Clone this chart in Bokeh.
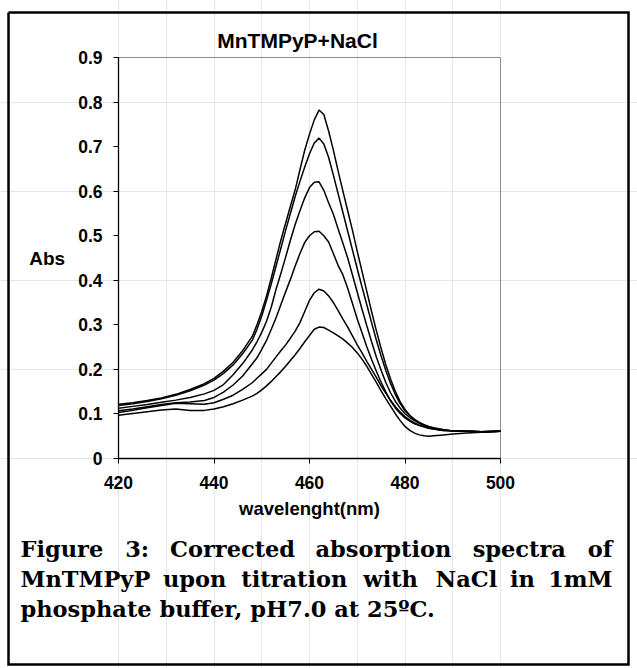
from bokeh.plotting import figure
from bokeh.models import Range1d, FixedTicker, CustomJSTickFormatter, LinearAxis, Label
from bokeh.embed import file_html
from bokeh.resources import INLINE

# ---------------- data ----------------
wavelength = [420, 423, 426, 429, 432, 435, 438, 440, 442, 444, 446, 448, 449, 450, 451, 452, 453, 454, 455,
              456, 457, 458, 459, 460, 461, 462, 463, 464, 465, 466, 467, 468, 469, 470, 471, 472, 473, 474,
              475, 476, 477, 478, 479, 480, 481, 482, 483, 484, 485, 486, 488, 490, 493, 496, 500]

abs_1 = [0.122, 0.125, 0.130, 0.136, 0.144, 0.155, 0.168, 0.180, 0.196, 0.216, 0.242, 0.274, 0.300, 0.330, 0.365,
         0.405, 0.448, 0.490, 0.528, 0.566, 0.603, 0.648, 0.692, 0.728, 0.760, 0.782, 0.772, 0.735, 0.692, 0.645,
         0.600, 0.556, 0.512, 0.465, 0.420, 0.375, 0.330, 0.287, 0.247, 0.210, 0.178, 0.150, 0.127, 0.110, 0.097,
         0.088, 0.081, 0.076, 0.072, 0.069, 0.065, 0.062, 0.061, 0.060, 0.061]
abs_2 = [0.119, 0.123, 0.128, 0.134, 0.142, 0.152, 0.165, 0.176, 0.191, 0.210, 0.235, 0.265, 0.290, 0.320, 0.355,
         0.392, 0.432, 0.472, 0.512, 0.550, 0.588, 0.622, 0.654, 0.684, 0.708, 0.719, 0.706, 0.676, 0.636, 0.594,
         0.552, 0.510, 0.468, 0.426, 0.385, 0.345, 0.305, 0.266, 0.230, 0.197, 0.168, 0.143, 0.123, 0.107, 0.096,
         0.087, 0.080, 0.075, 0.071, 0.068, 0.064, 0.062, 0.061, 0.060, 0.061]
abs_3 = [0.113, 0.117, 0.121, 0.126, 0.131, 0.137, 0.145, 0.153, 0.166, 0.188, 0.213, 0.243, 0.262, 0.283, 0.308,
         0.340, 0.380, 0.415, 0.452, 0.490, 0.525, 0.556, 0.585, 0.608, 0.620, 0.621, 0.602, 0.574, 0.548, 0.515,
         0.483, 0.450, 0.412, 0.373, 0.335, 0.298, 0.262, 0.228, 0.198, 0.170, 0.147, 0.128, 0.113, 0.101, 0.092,
         0.085, 0.079, 0.074, 0.070, 0.067, 0.064, 0.062, 0.061, 0.060, 0.061]
abs_4 = [0.107, 0.111, 0.116, 0.121, 0.125, 0.127, 0.130, 0.137, 0.149, 0.165, 0.185, 0.212, 0.226, 0.245, 0.265,
         0.290, 0.316, 0.345, 0.374, 0.402, 0.432, 0.460, 0.485, 0.500, 0.509, 0.510, 0.500, 0.486, 0.460, 0.433,
         0.412, 0.382, 0.348, 0.313, 0.282, 0.251, 0.222, 0.196, 0.171, 0.149, 0.129, 0.113, 0.101, 0.091, 0.084,
         0.078, 0.074, 0.071, 0.068, 0.066, 0.063, 0.062, 0.061, 0.060, 0.061]
abs_5 = [0.103, 0.108, 0.114, 0.119, 0.124, 0.123, 0.122, 0.125, 0.133, 0.142, 0.155, 0.170, 0.180, 0.190, 0.200,
         0.214, 0.228, 0.242, 0.255, 0.270, 0.286, 0.305, 0.330, 0.355, 0.372, 0.380, 0.376, 0.365, 0.350, 0.332,
         0.313, 0.295, 0.275, 0.255, 0.237, 0.218, 0.200, 0.182, 0.163, 0.146, 0.130, 0.116, 0.104, 0.094, 0.086,
         0.080, 0.075, 0.071, 0.068, 0.066, 0.063, 0.062, 0.061, 0.060, 0.061]
abs_6 = [0.097, 0.101, 0.105, 0.109, 0.111, 0.108, 0.108, 0.111, 0.116, 0.123, 0.131, 0.140, 0.146, 0.154, 0.163,
         0.173, 0.184, 0.195, 0.207, 0.220, 0.233, 0.247, 0.262, 0.276, 0.290, 0.295, 0.294, 0.288, 0.282, 0.275,
         0.268, 0.259, 0.249, 0.237, 0.223, 0.207, 0.189, 0.171, 0.152, 0.134, 0.117, 0.100, 0.085, 0.072, 0.063,
         0.057, 0.053, 0.051, 0.050, 0.051, 0.053, 0.055, 0.057, 0.059, 0.061]

x_ticks = [420, 440, 460, 480, 500]
y_ticks = [0, 0.1, 0.2, 0.3, 0.4, 0.5, 0.6, 0.7, 0.8, 0.9]
x_bounds = (420, 500)
y_bounds = (0, 0.9)

title_text = "MnTMPyP+NaCl"
x_label = "wavelenght(nm)"
y_label = "Abs"
caption_lines = [
    ["Figure", "3:", "Corrected", "absorption", "spectra", "of"],
    ["MnTMPyP", "upon", "titration", "with", "NaCl", "in", "1mM"],
    ["phosphate buffer, pH7.0 at 25\u00baC."],
]
caption_justify = [True, True, False]

# ---------------- layout (canvas pixels) ----------------
W, H = 637, 668
PX_L, PX_R, PX_T, PX_B = 118, 500, 57, 458     # plot area
BORDER = (8, 12, 628, 664)                     # left, top, right, bottom
TITLE_XY = (297, 40)
CAP_L, CAP_R = 20, 612
CAP_BASE = [548, 578, 608]
CAP_SIZE = 22.5

SANS = "Liberation Sans"
SERIF = "DejaVu Serif"

X0, X1 = x_bounds
Y0, Y1 = y_bounds
kx = (PX_R - PX_L) / (X1 - X0)
ky = (PX_B - PX_T) / (Y1 - Y0)


def dx(px):
    return X0 + (px - PX_L) / kx


def dy(py):
    return Y0 + (PX_B - py) / ky


p = figure(width=W, height=H, output_backend="svg", toolbar_location=None, title=None,
           x_range=Range1d(dx(0), dx(W)), y_range=Range1d(dy(H), dy(0)),
           x_axis_location=None, y_axis_location=None,
           min_border=0, min_border_left=0, min_border_right=0, min_border_top=0, min_border_bottom=0)
p.outline_line_color = None
p.background_fill_color = "white"
p.border_fill_color = "white"

# axes fixed at the plot-area edges
xaxis = LinearAxis(fixed_location=Y0, bounds=x_bounds, ticker=FixedTicker(ticks=x_ticks), axis_label=x_label)
yaxis = LinearAxis(fixed_location=X0, bounds=y_bounds, ticker=FixedTicker(ticks=y_ticks), axis_label=y_label,
                   formatter=CustomJSTickFormatter(code="return tick == 0 ? '0' : tick.toFixed(1);"))
for ax in (xaxis, yaxis):
    ax.axis_line_color = "black"
    ax.axis_line_width = 1.3
    ax.major_tick_line_color = "black"
    ax.major_tick_line_width = 1
    ax.major_tick_in = 0
    ax.major_tick_out = 5
    ax.minor_tick_line_color = None
    ax.major_label_text_font = SANS
    ax.major_label_text_font_style = "bold"
    ax.major_label_text_font_size = "17.5px"
    ax.major_label_text_color = "black"
    ax.axis_label_text_font = SANS
    ax.axis_label_text_font_style = "bold"
    ax.axis_label_text_color = "black"
xaxis.major_label_standoff = 12
xaxis.axis_label_text_font_size = "18.5px"
xaxis.axis_label_standoff = 6
yaxis.major_label_standoff = 11
yaxis.axis_label_orientation = "horizontal"
yaxis.axis_label_text_font_size = "19px"
yaxis.axis_label_standoff = 10
p.add_layout(xaxis, "below")
p.add_layout(yaxis, "left")

# grey plot-area border (top and right)
p.line([X0, X1, X1], [Y1, Y1, Y0], line_color="#8c8c8c", line_width=1)

# spectra
for ys in (abs_1, abs_2, abs_3, abs_4, abs_5, abs_6):
    p.line(wavelength, ys, line_color="black", line_width=1.5)

# title
p.add_layout(Label(x=dx(TITLE_XY[0]), y=dy(TITLE_XY[1]), text=title_text,
                   text_align="center", text_baseline="middle",
                   text_font=SANS, text_font_style="bold", text_font_size="21px", text_color="black"))

# caption: justified lines (approximate DejaVu Serif Bold advance widths, em units)
DV_SERIF_BOLD = {" ": 0.348, ",": 0.38, ".": 0.38, ":": 0.40, "\u00ba": 0.50,
                 "A": 0.776, "C": 0.734, "F": 0.72, "H": 0.94, "M": 1.10, "N": 0.92, "P": 0.78, "T": 0.74,
                 "a": 0.675, "b": 0.73, "c": 0.64, "d": 0.73, "e": 0.678, "f": 0.47, "g": 0.73, "h": 0.76,
                 "i": 0.42, "l": 0.42, "m": 1.10, "n": 0.76, "o": 0.687, "p": 0.73, "r": 0.59, "s": 0.595,
                 "t": 0.478, "u": 0.76, "w": 1.0, "y": 0.68}
WIDTH_SCALE = 0.95


def text_w(s, size):
    return sum(DV_SERIF_BOLD.get(c, 0.696) for c in s) * size * WIDTH_SCALE


for words, base, justify in zip(caption_lines, CAP_BASE, caption_justify):
    widths = [text_w(w, CAP_SIZE) for w in words]
    if justify and len(words) > 1:
        gap = (CAP_R - CAP_L - sum(widths)) / (len(words) - 1)
    else:
        gap = text_w(" ", CAP_SIZE)
    xpos = CAP_L
    for i, (w, wd) in enumerate(zip(words, widths)):
        last = justify and i == len(words) - 1 and len(words) > 1
        p.add_layout(Label(x=dx(CAP_R if last else xpos), y=dy(base), text=w,
                           text_align="right" if last else "left", text_baseline="alphabetic",
                           text_font=SERIF, text_font_style="bold", text_font_size=f"{CAP_SIZE}px",
                           text_color="black"))
        xpos += wd + gap

# outer frame
bl, bt, br, bb = BORDER
p.line([dx(bl), dx(br), dx(br), dx(bl), dx(bl)], [dy(bt), dy(bt), dy(bb), dy(bb), dy(bt)],
       line_color="black", line_width=2.5, line_join="miter")

open("out.html", "w").write(file_html(p, INLINE))
